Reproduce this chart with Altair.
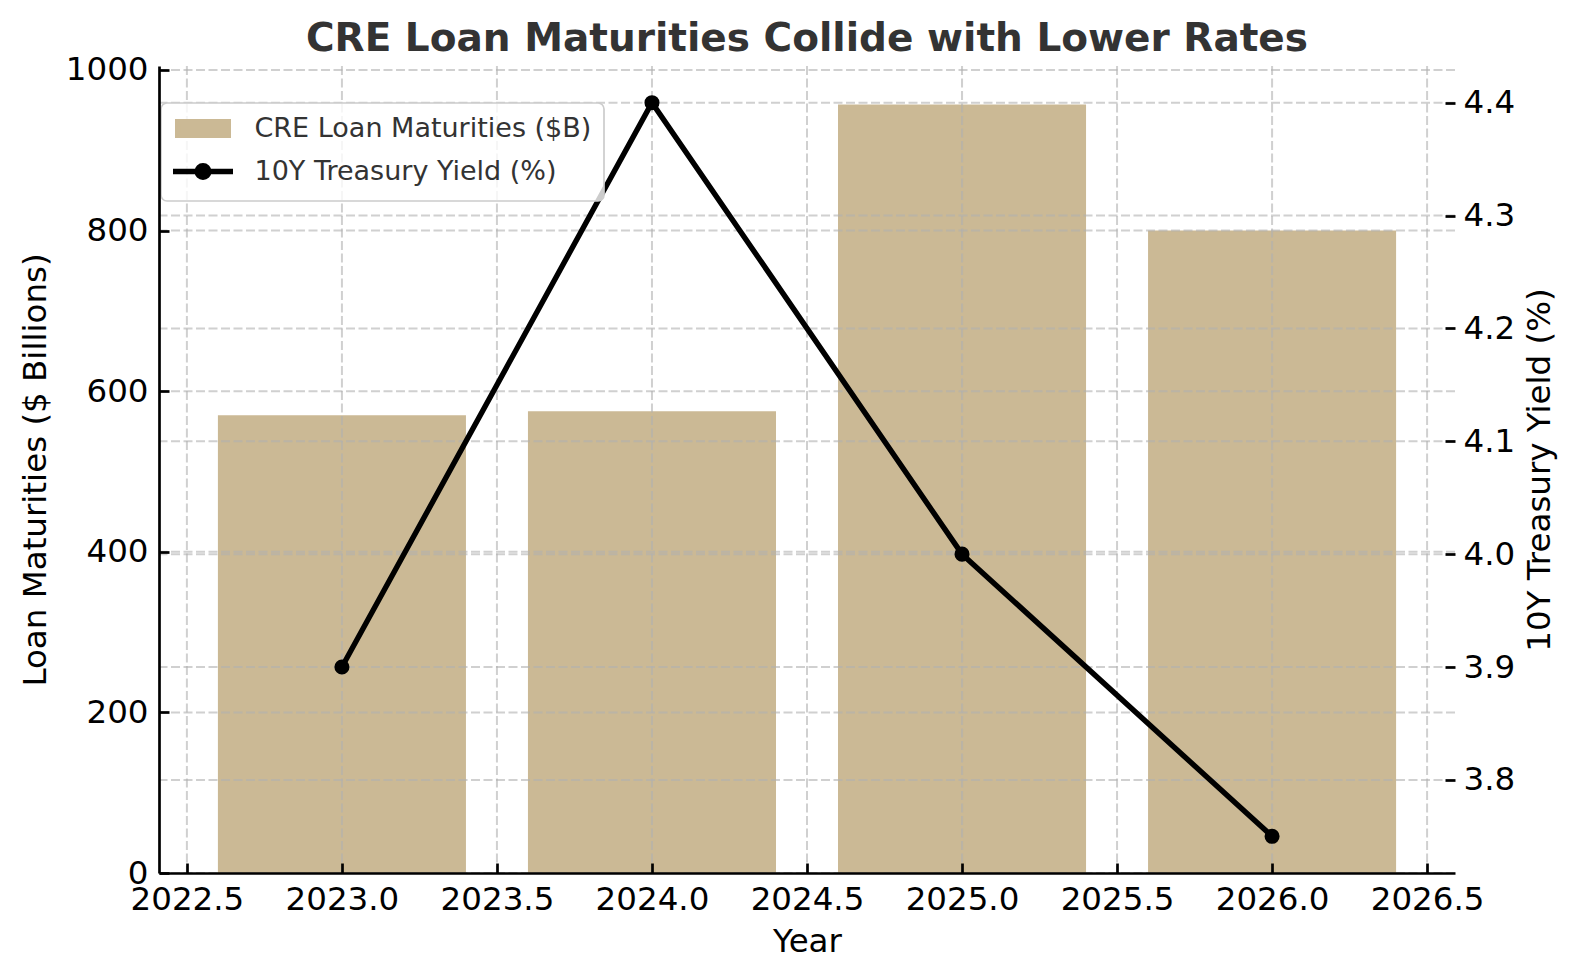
import altair as alt
import pandas as pd

# ---------------- data ----------------
years = [2023, 2024, 2025, 2026]
loan_maturities = [570, 575, 957, 800]
treasury_yield = [3.90, 4.40, 4.00, 3.75]

x_ticks = [2022.5, 2023.0, 2023.5, 2024.0, 2024.5, 2025.0, 2025.5, 2026.0, 2026.5]
left_ticks = [0, 200, 400, 600, 800, 1000]
right_ticks = [3.8, 3.9, 4.0, 4.1, 4.2, 4.3, 4.4]

series_names = ["CRE Loan Maturities ($B)", "10Y Treasury Yield (%)"]

# ---------------- styles ----------------
BAR_COLOR = "#cbb995"
LINE_COLOR = "#000000"
FONT = "DejaVu Sans"
W, H = 1296, 807

RECT_PATH = "M-2.53,-0.68H2.53V0.68H-2.53Z"
LINE_PATH = "M-3,0H3M0.58,0A0.58,0.58,0,1,1,-0.58,0A0.58,0.58,0,1,1,0.58,0Z"

bars_df = pd.DataFrame({"year": years, "loan": loan_maturities})
yield_df = pd.DataFrame({"year": years, "yld": treasury_yield,
                         "series": [series_names[1]] * len(years)})
xgrid_df = pd.DataFrame({"v": x_ticks})
lgrid_df = pd.DataFrame({"v": left_ticks})
rgrid_df = pd.DataFrame({"v": right_ticks})

x_scale = alt.Scale(domain=[2022.41, 2026.59], nice=False, zero=False)
yl_scale = alt.Scale(domain=[0, 1004.85], nice=False, zero=False)
yr_scale = alt.Scale(domain=[3.7175, 4.4325], nice=False, zero=False)

grid_style = dict(color="#b0b0b0", opacity=0.6, strokeWidth=2, strokeDash=[9, 3.5])
tick_axis = dict(labels=False, domain=False, grid=False, ticks=True, tickSize=10,
                 tickWidth=2.7, tickColor="#000000", title=None, zindex=2)

# ---------------- left-scale layers ----------------
bars = alt.Chart(bars_df).transform_calculate(
    x0="datum.year - 0.4", x1="datum.year + 0.4"
).mark_bar(color=BAR_COLOR).encode(
    x=alt.X("x0:Q", scale=x_scale,
            axis=alt.Axis(orient="bottom", values=x_ticks, format=".1f", title="Year",
                          grid=False, ticks=False, tickSize=0, domain=True,
                          domainColor="#000000", domainWidth=2.7, labelPadding=10,
                          titlePadding=10, labelFlush=False, labelOverlap=False, zindex=2)),
    x2="x1:Q",
    y=alt.Y("loan:Q", scale=yl_scale,
            axis=alt.Axis(orient="left", values=left_ticks, format="d",
                          title="Loan Maturities ($ Billions)", grid=False, ticks=False,
                          tickSize=0, domain=True, domainColor="#000000", domainWidth=2.7,
                          labelPadding=11, titlePadding=13, titleAngle=270,
                          titleBaseline="bottom", labelOverlap=False, zindex=2)),
    y2=alt.datum(0),
)

lgrid = alt.Chart(lgrid_df).mark_rule(**grid_style).encode(
    y=alt.Y("v:Q", scale=yl_scale,
            axis=alt.Axis(orient="right", offset=-W, values=left_ticks, **tick_axis))
)
xgrid = alt.Chart(xgrid_df).mark_rule(**grid_style).encode(
    x=alt.X("v:Q", scale=x_scale,
            axis=alt.Axis(orient="top", offset=-H, values=x_ticks, **tick_axis))
)

left_layer = alt.layer(bars, lgrid, xgrid).resolve_axis(x="independent", y="independent")

# ---------------- right-scale layers ----------------
rgrid = alt.Chart(rgrid_df).mark_rule(**grid_style).encode(
    y=alt.Y("v:Q", scale=yr_scale,
            axis=alt.Axis(orient="left", offset=-W, values=right_ticks, **tick_axis))
)

line = alt.Chart(yield_df).mark_line(color=LINE_COLOR, strokeWidth=5.4).encode(
    x=alt.X("year:Q", scale=x_scale, axis=None),
    y=alt.Y("yld:Q", scale=yr_scale,
            axis=alt.Axis(orient="right", values=right_ticks, format=".1f",
                          title="10Y Treasury Yield (%)", grid=False, ticks=False,
                          tickSize=0, domain=False, labelPadding=8, titlePadding=9,
                          titleAngle=270, titleBaseline="top", labelOverlap=False,
                          zindex=2)),
)

pts = alt.Chart(yield_df).mark_point(filled=True, size=227, color=LINE_COLOR, opacity=1).encode(
    x=alt.X("year:Q", scale=x_scale, axis=None),
    y=alt.Y("yld:Q", scale=yr_scale, axis=None),
)

legend_layer = alt.Chart(yield_df).mark_point(filled=True, opacity=0).encode(
    x=alt.X("year:Q", scale=x_scale, axis=None),
    y=alt.Y("yld:Q", scale=yr_scale, axis=None),
    fill=alt.Fill("series:N", scale=alt.Scale(domain=series_names, range=[BAR_COLOR, LINE_COLOR]),
                  legend=alt.Legend(title=None)),
    stroke=alt.Stroke("series:N", scale=alt.Scale(domain=series_names, range=[BAR_COLOR, LINE_COLOR]),
                      legend=alt.Legend(title=None)),
    shape=alt.Shape("series:N", scale=alt.Scale(domain=series_names, range=[RECT_PATH, LINE_PATH]),
                    legend=alt.Legend(title=None)),
)

right_layer = alt.layer(rgrid, line, pts, legend_layer).resolve_axis(y="independent")

chart = alt.layer(left_layer, right_layer).resolve_scale(y="independent").properties(
    width=W, height=H,
    background="white",
    autosize=alt.AutoSizeParams(type="none"),
    padding={"left": 151, "top": 58, "right": 110, "bottom": 90},
    title=alt.Title("CRE Loan Maturities Collide with Lower Rates", font=FONT, fontSize=39,
                    fontWeight="bold", color="#333333", anchor="middle", frame="group",
                    offset=-5),
).configure_view(stroke=None).configure_axis(
    labelFont=FONT, labelFontSize=32.5, labelColor="#000000",
    titleFont=FONT, titleFontSize=32.5, titleFontWeight="normal", titleColor="#000000",
).configure_legend(
    orient="none", legendX=2, legendY=37, direction="vertical",
    symbolSize=400, symbolStrokeWidth=5.4, symbolOpacity=1, symbolOffset=16.5,
    labelFont=FONT, labelFontSize=27, labelColor="#333333", labelOffset=38, labelLimit=600,
    padding=12, rowPadding=7, strokeColor="#cccccc", strokeWidth=1.7,
    fillColor="rgba(255,255,255,0.8)", cornerRadius=6,
)

chart.save("out.html", embed_options={"renderer": "svg", "actions": False})
